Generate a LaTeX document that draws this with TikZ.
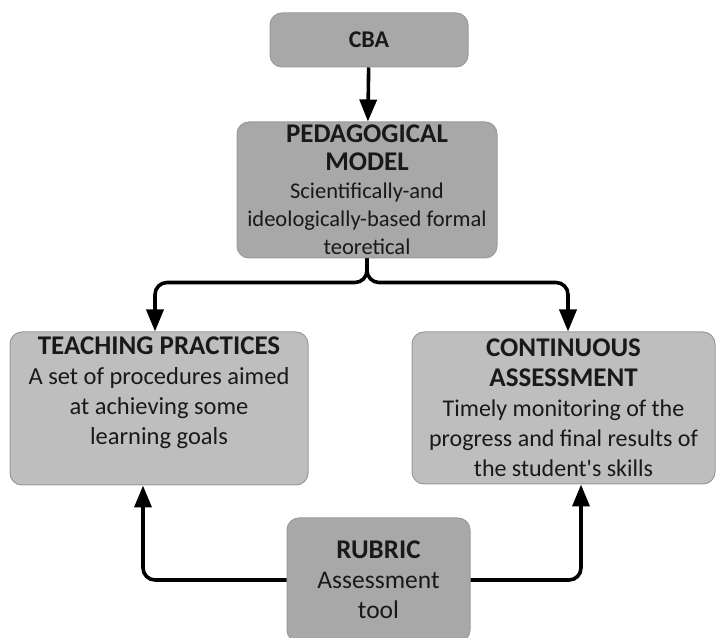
\documentclass[tikz,border=0pt]{standalone}
\usepackage{fontspec}
\setmainfont{Carlito}
\usepackage{tikz}
\usetikzlibrary{arrows.meta, positioning}

\definecolor{darkbox}{HTML}{A8A8A8}
\definecolor{lightbox}{HTML}{BEBEBE}
\definecolor{boxedge}{HTML}{9A9A9A}
\newcommand{\hd}[1]{{\fontsize{27}{30}\selectfont\bfseries #1}}

\begin{document}
\begin{tikzpicture}[x=1pt,y=1pt,node distance=150pt,on grid,
        >={Triangle[length=22pt,width=17pt]},
        box/.style={draw=boxedge,line width=1pt,rounded corners=12pt,align=center,
          inner sep=0pt,text=black!90,font=\fontsize{24.5}{30}\selectfont},
        dark/.style={box,fill=darkbox},
        light/.style={box,fill=lightbox},
        link/.style={->,line width=3.6pt,rounded corners=12pt}]

  \useasboundingbox (0,0) rectangle (717,637);

  \node[dark,minimum width=198pt,minimum height=54pt] (cba) at (369,597)
        {\fontsize{24}{28}\selectfont\bfseries CBA};
  \node[dark,minimum width=260pt,minimum height=136pt,font=\fontsize{22.5}{28}\selectfont]
        (ped) [below=of cba,xshift=-2pt]
        {\hd{PEDAGOGICAL}\\ \hd{MODEL}\\ Scientifically-and\\
         ideologically-based formal\\ teoretical};
  \node[light,minimum width=298pt,minimum height=153pt] (teach) [below left=218.5pt and 208pt of ped]
        {\hd{TEACHING PRACTICES}\\ A set of procedures aimed\\ at achieving some\\ learning goals\\[6pt]};
  \node[light,minimum width=303pt,minimum height=152pt,font=\fontsize{24}{30}\selectfont]
        (cont) [below right=218pt and 196.5pt of ped]
        {\hd{CONTINUOUS}\\ \hd{ASSESSMENT}\\ Timely monitoring of the\\
         progress and final results of\\ the student\textquotesingle s skills};
  \node[dark,minimum width=183pt,minimum height=124pt,font=\fontsize{25.5}{30}\selectfont]
        (rub) at (378.5,57)
        {\hd{RUBRIC}\\ Assessment\\ tool};

  % top down
  \draw[link] (cba) -- (ped);
  \coordinate (split) at ([yshift=-24pt]ped.south);
  \draw[link] (ped.south) -- (split) -| ([xshift=-4pt]teach.north);
  \draw[link] (ped.south) -- (split) -| ([xshift=4.5pt]cont.north);

  % rubric feeds both
  \draw[link] (rub.west) -| ([xshift=-16pt]teach.south);
  \draw[link] (rub.east) -| ([xshift=17.5pt]cont.south);
\end{tikzpicture}
\end{document}
